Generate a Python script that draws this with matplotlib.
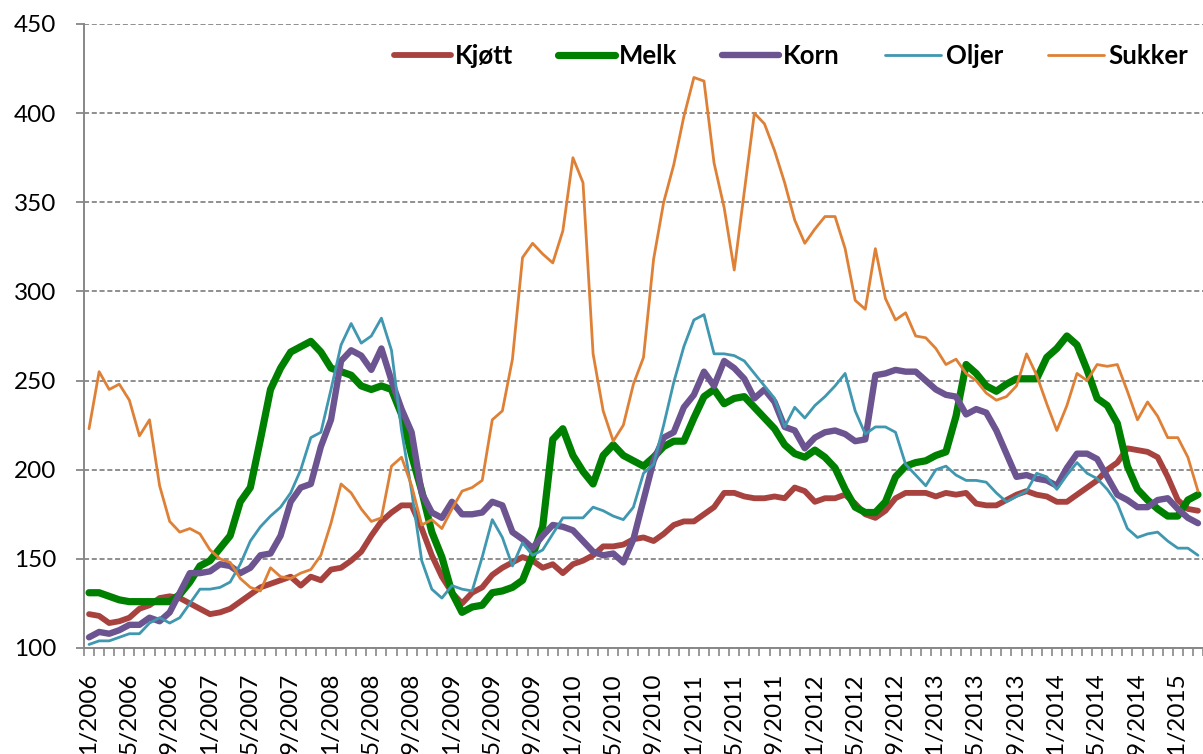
import matplotlib
matplotlib.use("Agg")
import matplotlib.pyplot as plt
import numpy as np

# ---- data (monthly index, 1/2006 .. 3/2015) ----
tick_labels = ["1/2006", "5/2006", "9/2006", "1/2007", "5/2007", "9/2007",
               "1/2008", "5/2008", "9/2008", "1/2009", "5/2009", "9/2009",
               "1/2010", "5/2010", "9/2010", "1/2011", "5/2011", "9/2011",
               "1/2012", "5/2012", "9/2012", "01/2013", "05/2013", "09/2013",
               "01/2014", "05/2014", "09/2014", "01/2015"]

kjott = [119, 118, 114, 115, 117, 122, 124, 128, 129, 128,
         125, 122, 119, 120, 122, 126, 130, 134, 136, 138,
         140, 135, 140, 138, 144, 145, 149, 154, 163, 171,
         176, 180, 180, 167, 152, 140, 131, 125, 131, 134,
         141, 145, 148, 151, 149, 145, 147, 142, 147, 149,
         152, 157, 157, 158, 161, 162, 160, 164, 169, 171,
         171, 175, 179, 187, 187, 185, 184, 184, 185, 184,
         190, 188, 182, 184, 184, 186, 181, 175, 173, 177,
         184, 187, 187, 187, 185, 187, 186, 187, 181, 180,
         180, 183, 186, 188, 186, 185, 182, 182, 186, 190,
         194, 200, 204, 212, 211, 210, 207, 196, 183, 178,
         177]

melk = [131, 131, 129, 127, 126, 126, 126, 126, 126, 130,
        137, 146, 149, 156, 163, 182, 190, 217, 245, 257,
        266, 269, 272, 266, 257, 255, 253, 247, 245, 247,
        245, 231, 208, 188, 165, 151, 131, 120, 123, 124,
        131, 132, 134, 138, 152, 168, 217, 223, 208, 199,
        192, 208, 214, 208, 205, 202, 207, 213, 216, 216,
        229, 241, 245, 237, 240, 241, 235, 229, 223, 214,
        209, 207, 211, 207, 201, 189, 179, 176, 176, 182,
        196, 202, 204, 205, 208, 210, 230, 259, 254, 247,
        244, 248, 251, 251, 251, 263, 268, 275, 270, 256,
        240, 236, 226, 202, 189, 183, 178, 174, 174, 183,
        186]

korn = [106, 109, 108, 110, 113, 113, 117, 115, 120, 131,
        142, 142, 143, 147, 146, 142, 145, 152, 153, 163,
        182, 190, 192, 213, 228, 261, 267, 264, 256, 268,
        250, 234, 221, 187, 176, 173, 182, 175, 175, 176,
        182, 180, 165, 161, 156, 163, 169, 168, 166, 160,
        154, 152, 153, 148, 161, 183, 205, 218, 221, 235,
        242, 255, 247, 261, 257, 251, 240, 245, 238, 224,
        222, 212, 218, 221, 222, 220, 216, 217, 253, 254,
        256, 255, 255, 250, 245, 242, 241, 231, 234, 232,
        222, 209, 196, 197, 195, 194, 191, 201, 209, 209,
        206, 196, 186, 183, 179, 179, 183, 184, 178, 173,
        170]

oljer = [102, 104, 104, 106, 108, 108, 114, 117, 114, 117,
         125, 133, 133, 134, 137, 147, 160, 168, 174, 179,
         187, 200, 218, 221, 245, 270, 282, 271, 275, 285,
         267, 222, 188, 149, 133, 128, 135, 133, 132, 151,
         172, 162, 146, 159, 152, 155, 164, 173, 173, 173,
         179, 177, 174, 172, 179, 198, 203, 225, 249, 269,
         284, 287, 265, 265, 264, 261, 254, 247, 240, 224,
         235, 229, 236, 241, 247, 254, 233, 220, 224, 224,
         221, 203, 197, 191, 200, 202, 197, 194, 194, 193,
         187, 182, 185, 188, 198, 196, 189, 197, 204, 198,
         195, 189, 181, 167, 162, 164, 165, 160, 156, 156,
         152]

sukker = [223, 255, 245, 248, 239, 219, 228, 191, 171, 165,
          167, 164, 155, 150, 148, 139, 134, 132, 145, 140,
          139, 142, 144, 152, 170, 192, 187, 178, 171, 173,
          202, 207, 191, 169, 172, 167, 178, 188, 190, 194,
          228, 233, 262, 319, 327, 321, 316, 334, 375, 361,
          265, 233, 216, 225, 248, 263, 318, 350, 371, 398,
          420, 418, 372, 347, 312, 356, 400, 394, 379, 361,
          340, 327, 335, 342, 342, 324, 295, 290, 324, 296,
          284, 288, 275, 274, 268, 259, 262, 254, 250, 243,
          239, 241, 247, 265, 253, 237, 222, 236, 254, 250,
          259, 258, 259, 244, 228, 238, 230, 218, 218, 207,
          188]

series_names = ["Kjøtt", "Melk", "Korn", "Oljer", "Sukker"]

# ---- figure ----
plt.rcParams["font.family"] = ["Lato", "DejaVu Sans"]
W, H = 1203, 754
fig = plt.figure(figsize=(W / 100, H / 100), dpi=100)
ax = fig.add_axes([84 / W, 1 - 648 / H, 1 - 84 / W, (648 - 24) / H])

x = np.arange(len(kjott))
styles = [
    (kjott, "#A7423F", 4.2),
    (melk, "#008000", 5.2),
    (korn, "#6C5490", 4.6),
    (oljer, "#3F97B0", 2.0),
    (sukker, "#DE8137", 2.0),
]
for (vals, col, lw), name in zip(styles, series_names):
    ax.plot(x, vals, color=col, lw=lw, label=name,
            solid_joinstyle="round", solid_capstyle="round", zorder=3)

ax.set_xlim(-0.5, 110.1)
ax.set_ylim(100, 450)

grey = "#878787"
ax.set_yticks(np.arange(100, 451, 50))
ax.yaxis.grid(True, color=grey, lw=1.3, linestyle=(0, (2.8, 1.5)))
ax.set_axisbelow(True)

for s in ["top", "right"]:
    ax.spines[s].set_visible(False)
for s in ["left", "bottom"]:
    ax.spines[s].set_color(grey)
    ax.spines[s].set_linewidth(1.4)

ax.tick_params(axis="y", direction="out", length=6, width=1.3, color=grey,
               labelsize=17.5, pad=14, labelcolor="black")

major_pos = np.arange(0, 4 * len(tick_labels), 4)
ax.set_xticks(major_pos)
ax.set_xticklabels(tick_labels, rotation=90, va="top", ha="center")
ax.set_xticks(np.arange(-0.5, 110.6, 1), minor=True)
ax.tick_params(axis="x", which="major", length=0, labelsize=17.5, pad=18,
               labelcolor="black")
ax.tick_params(axis="x", which="minor", direction="out", length=5.5,
               width=1.2, color=grey)

leg = fig.legend(loc="center left", bbox_to_anchor=(394 / W, 1 - 56 / H),
                 ncol=5, frameon=False, handlelength=2.2, handletextpad=0.17,
                 columnspacing=1.75, borderpad=0, borderaxespad=0,
                 prop={"family": ["Lato", "DejaVu Sans"], "weight": "bold",
                       "size": 18.5})

fig.savefig("out.png", dpi=100)
